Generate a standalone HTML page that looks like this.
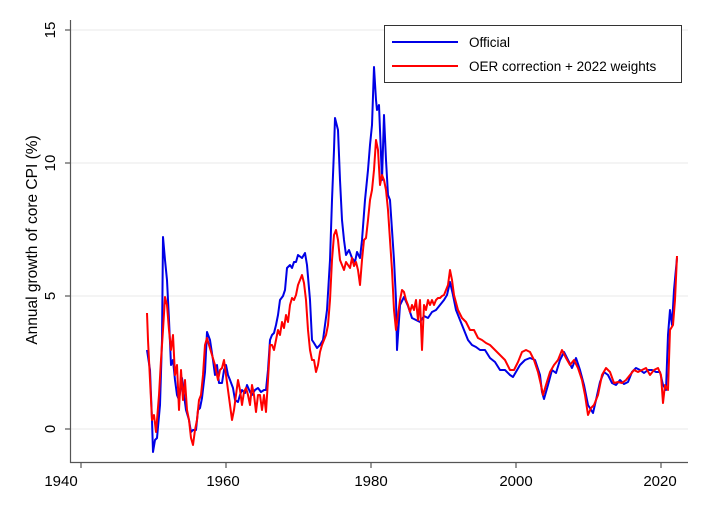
<!DOCTYPE html>
<html><head><meta charset="utf-8"><style>
html,body{margin:0;padding:0;background:#fff;}
svg{display:block;font-family:"Liberation Sans",sans-serif;}
</style></head><body>
<svg width="706" height="516" viewBox="0 0 706 516" xmlns="http://www.w3.org/2000/svg">
<rect width="706" height="516" fill="#fff"/>
<g stroke="#eaeaea" stroke-width="1">
<line x1="71" y1="30" x2="688" y2="30"/><line x1="71" y1="163" x2="688" y2="163"/>
<line x1="71" y1="296" x2="688" y2="296"/><line x1="71" y1="429" x2="688" y2="429"/>
</g>
<g stroke="#555" stroke-width="1.2" fill="none">
<line x1="70.5" y1="20" x2="70.5" y2="463"/><line x1="70" y1="462.5" x2="688" y2="462.5"/>
<line x1="65" y1="30" x2="70" y2="30"/><line x1="65" y1="163" x2="70" y2="163"/><line x1="65" y1="296" x2="70" y2="296"/><line x1="65" y1="429" x2="70" y2="429"/>
<line x1="81" y1="463" x2="81" y2="468"/><line x1="226" y1="463" x2="226" y2="468"/><line x1="371" y1="463" x2="371" y2="468"/><line x1="516" y1="463" x2="516" y2="468"/><line x1="661" y1="463" x2="661" y2="468"/>
</g>
<g font-size="15" fill="#000" text-anchor="middle">
<text transform="translate(55,30) rotate(-90)">15</text>
<text transform="translate(55,163) rotate(-90)">10</text>
<text transform="translate(55,296) rotate(-90)">5</text>
<text transform="translate(55,429) rotate(-90)">0</text>
<text transform="translate(37,240) rotate(-90)" font-size="15.5">Annual growth of core CPI (%)</text>
<text x="61" y="486">1940</text><text x="223" y="486">1960</text><text x="371" y="486">1980</text><text x="516" y="486">2000</text><text x="660" y="486">2020</text>
</g>
<polyline fill="none" stroke="#0000e6" stroke-width="2" stroke-linejoin="round" points="147,350 150,370 152,420 153,452 155,440 157,438 160,405 162,340 163,237 165,260 167,280 169,320 171,365 173,360 175,380 177,395 179,400 182,378 184,395 186,410 189,420 191,432 193,430 196,430 198,410 200,408 202,398 205,372 207,332 210,340 213,360 215,375 217,365 219,383 222,383 224,370 226,365 228,375 230,380 233,388 235,400 238,402 240,395 242,390 245,393 247,385 250,392 252,395 255,390 258,388 261,392 264,390 266,390 268,370 270,340 272,335 274,333 276,325 278,315 280,300 283,296 285,290 287,268 290,265 292,268 294,262 296,262 298,255 302,258 305,253 307,265 310,300 312,340 314,343 317,348 320,345 323,340 327,310 330,260 332,200 334,150 335,118 338,130 340,180 342,220 344,240 346,255 349,250 352,258 355,262 357,252 360,258 362,240 365,200 368,170 370,145 372,125 374,67 376,100 377,110 379,105 380,130 382,180 384,115 386,160 388,195 390,200 392,230 394,260 396,300 397,350 400,305 404,297 408,306 412,318 416,320 420,322 424,316 428,318 432,312 436,310 440,305 444,300 447,295 450,282 453,295 456,310 460,320 464,330 468,340 472,345 476,347 480,350 485,350 490,358 495,362 500,370 505,370 510,375 513,377 520,365 525,360 530,358 535,360 540,375 542,392 544,399 548,385 552,370 556,373 560,360 564,352 568,360 572,368 576,358 580,370 584,385 588,405 593,413 596,400 600,382 604,372 608,375 612,383 616,385 620,380 624,384 628,382 632,372 636,368 640,370 644,373 648,370 652,370 656,372 660,372 663,385 666,390 668,335 670,310 672,325 674,290 677,258"/>
<polyline fill="none" stroke="#ff0000" stroke-width="2" stroke-linejoin="round" points="147,313 148,340 150,380 152,420 154,415 156,432 157,420 159,395 161,360 163,330 165,297 167,305 169,330 171,350 173,335 175,375 177,365 179,410 181,370 183,400 185,380 187,410 189,420 191,438 193,445 195,430 197,420 199,400 201,395 203,375 205,345 207,338 209,345 212,355 215,365 218,380 220,370 222,368 224,360 226,375 228,390 230,405 232,420 234,410 236,395 238,380 240,390 242,405 244,392 246,388 248,395 250,405 252,385 254,395 256,412 258,395 260,395 262,410 264,395 266,412 268,380 270,345 272,345 274,350 276,340 278,330 280,335 282,322 284,328 286,315 288,322 290,305 292,298 294,300 296,295 298,285 300,280 302,275 304,283 306,300 308,330 310,350 312,360 314,360 316,372 318,365 320,352 322,345 324,340 326,335 328,325 330,300 332,260 334,235 336,230 338,240 340,260 342,265 344,270 346,262 348,265 350,268 352,258 354,266 356,262 358,270 360,285 362,260 364,240 366,238 368,220 370,200 372,190 374,170 376,140 378,150 380,185 382,175 384,180 386,190 388,210 390,240 392,270 394,310 396,330 398,315 400,300 402,290 404,292 406,300 408,305 410,312 412,305 414,310 416,300 418,320 420,300 422,350 424,305 426,310 428,300 430,305 432,300 434,305 436,300 438,298 440,298 442,296 444,295 446,290 448,285 450,270 452,280 454,295 458,310 462,318 466,322 470,330 474,330 478,338 482,340 486,343 490,345 495,350 500,355 505,360 510,370 514,370 518,362 522,352 526,350 530,352 534,360 538,372 541,385 543,395 546,385 550,372 554,365 558,360 562,350 566,358 570,365 574,360 578,368 582,380 585,395 588,415 591,408 594,405 598,395 602,375 606,368 610,372 614,383 618,382 622,383 626,380 630,375 634,370 638,372 642,370 646,368 650,375 654,370 658,368 661,375 663,403 665,385 668,390 670,330 673,325 675,300 677,256"/>
<rect x="384.5" y="25.5" width="297" height="57" fill="#fff" stroke="#333" stroke-width="1"/>
<line x1="392" y1="42" x2="458" y2="42" stroke="#0000e6" stroke-width="2"/>
<line x1="392" y1="66" x2="458" y2="66" stroke="#ff0000" stroke-width="2"/>
<text x="469" y="47" font-size="13.5" fill="#000">Official</text>
<text x="469" y="71" font-size="13.5" fill="#000">OER correction + 2022 weights</text>
</svg>
</body></html>
